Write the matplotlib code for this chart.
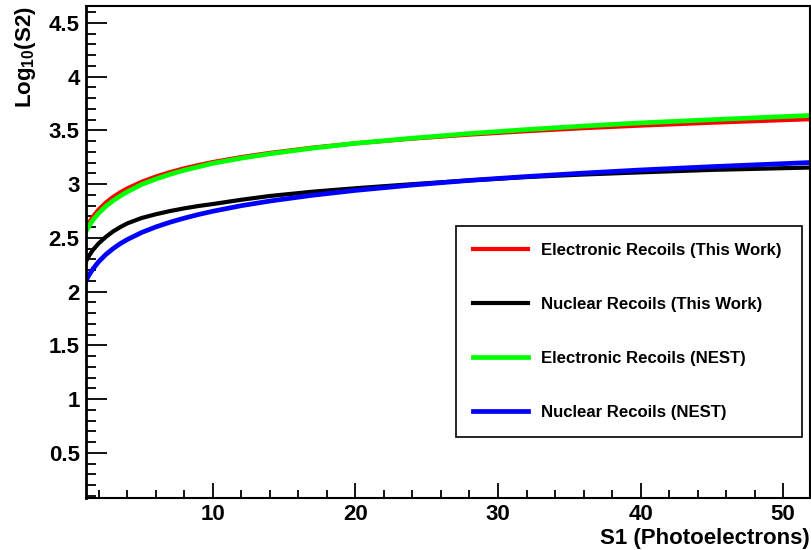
import matplotlib
matplotlib.use("Agg")
import matplotlib.pyplot as plt
from matplotlib.ticker import MultipleLocator

plt.rcParams['font.family'] = ['Liberation Sans', 'DejaVu Sans']
plt.rcParams['font.weight'] = 'bold'
plt.rcParams['mathtext.fontset'] = 'custom'
plt.rcParams['mathtext.rm'] = 'Liberation Sans:bold'
plt.rcParams['mathtext.it'] = 'Liberation Sans:bold'
plt.rcParams['mathtext.bf'] = 'Liberation Sans:bold'

# values
s1 = [1.1, 1.3, 1.6, 2, 2.5, 3, 3.5, 4, 5, 6, 7, 8, 9, 10,
      12, 14, 17, 20, 24, 28, 32, 36, 40, 45, 52]
er_this = [2.590, 2.640, 2.701, 2.766, 2.830, 2.881, 2.924, 2.961, 3.022, 3.071, 3.112, 3.148, 3.178, 3.206,
           3.252, 3.291, 3.340, 3.380, 3.424, 3.461, 3.493, 3.521, 3.545, 3.572, 3.605]
nr_this = [2.280, 2.330, 2.390, 2.450, 2.510, 2.560, 2.600, 2.635, 2.685, 2.720, 2.750, 2.775, 2.797, 2.815,
           2.855, 2.890, 2.930, 2.962, 3.000, 3.035, 3.066, 3.090, 3.110, 3.133, 3.155]
er_nest = [2.560, 2.608, 2.668, 2.731, 2.795, 2.846, 2.890, 2.929, 2.997, 3.048, 3.092, 3.130, 3.162, 3.194,
           3.242, 3.283, 3.335, 3.380, 3.428, 3.471, 3.508, 3.541, 3.570, 3.600, 3.640]
nr_nest = [2.100, 2.151, 2.213, 2.280, 2.346, 2.400, 2.446, 2.485, 2.550, 2.602, 2.646, 2.684, 2.718, 2.748,
           2.800, 2.843, 2.897, 2.942, 2.992, 3.035, 3.071, 3.103, 3.132, 3.163, 3.202]

labels = ["Electronic Recoils (This Work)", "Nuclear Recoils (This Work)",
          "Electronic Recoils (NEST)", "Nuclear Recoils (NEST)"]

fig = plt.figure(figsize=(8.11, 5.5), dpi=100)
ax = fig.add_axes([0.106, 0.095, 0.8925, 0.8945])

ax.plot(s1, er_this, color="#ff0000", lw=3.0, label=labels[0])
ax.plot(s1, nr_this, color="#000000", lw=3.0, label=labels[1])
ax.plot(s1, er_nest, color="#00ff00", lw=3.4, label=labels[2])
ax.plot(s1, nr_nest, color="#0000ff", lw=3.4, label=labels[3])

ax.set_xlim(1.1, 51.87)
ax.set_ylim(0.082, 4.66)

ax.xaxis.set_major_locator(MultipleLocator(10))
ax.xaxis.set_minor_locator(MultipleLocator(2))
ax.yaxis.set_minor_locator(MultipleLocator(0.1))
ax.set_yticks([0.5, 1, 1.5, 2, 2.5, 3, 3.5, 4, 4.5])
ax.set_yticklabels(["0.5", "1", "1.5", "2", "2.5", "3", "3.5", "4", "4.5"])

ax.tick_params(axis='both', which='both', direction='in', top=False, right=False,
               width=1.3, labelsize=16, pad=4.5)
ax.tick_params(axis='y', which='major', length=15)
ax.tick_params(axis='y', which='minor', length=7.5)
ax.tick_params(axis='x', which='major', length=11)
ax.tick_params(axis='x', which='minor', length=5.5)
for lab in ax.get_xticklabels() + ax.get_yticklabels():
    lab.set_fontweight('bold')
for sp in ax.spines.values():
    sp.set_linewidth(1.5)
ax.spines['left'].set_linewidth(2)

ax.set_xlabel("S1 (Photoelectrons)", fontsize=16, fontweight='bold', loc='right', labelpad=2)
ax.set_ylabel("Log$_{10}$(S2)", fontsize=16, fontweight='bold', loc='top', labelpad=8)

# legend box fixed to the reference's width, rows spaced as in the picture
leg = ax.legend(loc='upper left', bbox_to_anchor=(0.562, 0.2, 0.427, 0.389),
                bbox_transform=fig.transFigure, mode='expand',
                handlelength=3.3, handletextpad=0.75, labelspacing=2.33, borderaxespad=0,
                borderpad=1.0, fancybox=False, framealpha=1, edgecolor='black',
                prop={'weight': 'bold', 'size': 12.1})
leg.get_frame().set_linewidth(1.2)

fig.savefig("out.png", dpi=100)
